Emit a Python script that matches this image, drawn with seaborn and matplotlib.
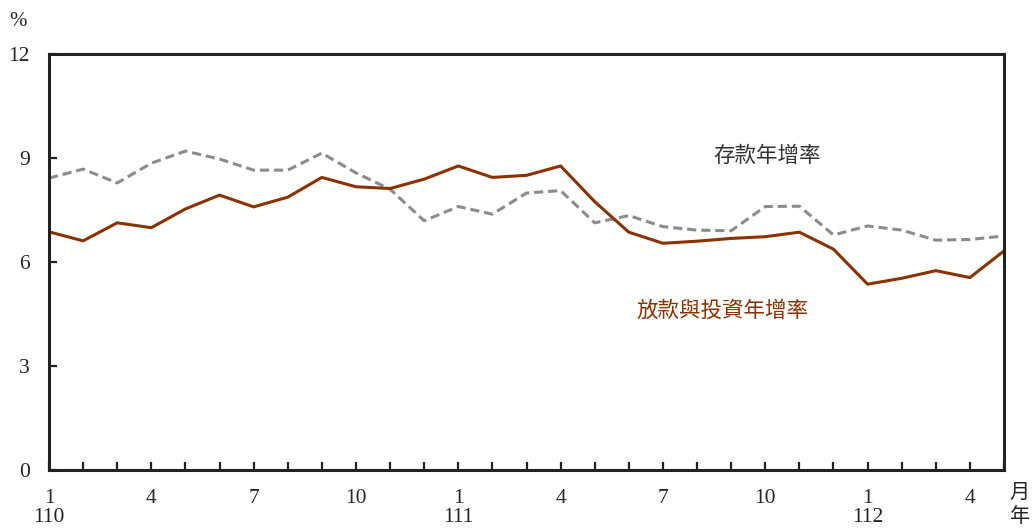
import numpy as np
import pandas as pd
import matplotlib
matplotlib.use("Agg")
import matplotlib.pyplot as plt
import matplotlib.transforms as mtransforms
import seaborn as sns

# Data: Jan 110 .. May 112 (ROC years)
months = [1,2,3,4,5,6,7,8,9,10,11,12,
          1,2,3,4,5,6,7,8,9,10,11,12,
          1,2,3,4,5]
deposits = [8.42, 8.68, 8.28, 8.85, 9.20, 8.97, 8.65, 8.65, 9.14, 8.57, 8.10, 7.19,
            7.60, 7.38, 7.99, 8.06, 7.13, 7.34, 7.02, 6.92, 6.90, 7.60, 7.61, 6.78,
            7.04, 6.92, 6.63, 6.65, 6.75]
loans = [6.87, 6.61, 7.13, 6.99, 7.53, 7.93, 7.59, 7.87, 8.44, 8.17, 8.12, 8.39,
         8.77, 8.44, 8.50, 8.77, 7.74, 6.86, 6.54, 6.60, 6.68, 6.73, 6.86, 6.37,
         5.36, 5.53, 5.75, 5.55, 6.32]
month_tick_labels = ["1", "4", "7", "10", "1", "4", "7", "10", "1", "4"]
year_labels = ["110", "111", "112"]
y_ticks = [0, 3, 6, 9, 12]
label_deposits = "存款年增率"
label_loans = "放款與投資年增率"

idx = np.arange(len(months))
df = pd.DataFrame({"idx": np.concatenate([idx, idx]),
                   "value": deposits + loans,
                   "series": [label_deposits] * len(idx) + [label_loans] * len(idx)})

sns.set_theme(style="white")
plt.rcParams["font.family"] = ["Liberation Serif", "Noto Sans CJK TC"]
plt.rcParams["axes.unicode_minus"] = False

fig = plt.figure(figsize=(10.34, 5.28), dpi=100)
ax = fig.add_axes([49/1034, 1 - 470/528, (1004 - 49)/1034, (470 - 54)/528])

brown = "#8B3200"
gray = "#8C8C8C"
sns.lineplot(data=df, x="idx", y="value", hue="series", style="series",
             palette={label_deposits: gray, label_loans: brown},
             dashes={label_deposits: (3.0, 1.6), label_loans: ""},
             linewidth=2.2, legend=False, ax=ax, sort=False)

ax.set_xlim(0, len(months) - 1)
ax.set_ylim(0, 12)
ax.set_xlabel("")
ax.set_ylabel("")

for s in ax.spines.values():
    s.set_visible(True)
    s.set_color("#222222")
    s.set_linewidth(2.2)

ax.set_xticks(idx, minor=True)
major_pos = [i for i, m in enumerate(months) if m in (1, 4, 7, 10)]
ax.set_xticks(major_pos)
ax.set_xticklabels(month_tick_labels, fontsize=15.5)
ax.tick_params(axis="x", which="both", direction="in", length=6, width=1.6,
               color="#222222", pad=14, bottom=True)
ax.set_yticks(y_ticks)
ax.set_yticklabels([str(v) for v in y_ticks], fontsize=15.5)
ax.tick_params(axis="y", direction="in", length=6, width=1.6, color="#222222",
               pad=14, left=True)

# Year labels under January ticks
trans = mtransforms.blended_transform_factory(ax.transData, fig.transFigure)
year_pos = [i for i, m in enumerate(months) if m == 1]
for p, yl in zip(year_pos, year_labels):
    ax.text(p, 1 - 518/528, yl, transform=trans, ha="center", va="center",
            fontsize=15.5, color="#222222")

# Units
fig.text(18/1034, 1 - 21/528, "%", ha="center", va="center", fontsize=15, color="#222222")
fig.text(1020/1034, 1 - 492/528, "月", ha="center", va="center", fontsize=14.5,
         color="#222222", family=["Noto Sans CJK TC"])
fig.text(1020/1034, 1 - 516/528, "年", ha="center", va="center", fontsize=14.5,
         color="#222222", family=["Noto Sans CJK TC"])

# Series labels
ax.text(21.05, 9.05, label_deposits, ha="center", va="center", fontsize=15.5,
        color="#333333", family=["Noto Sans CJK TC"], fontweight="light")
ax.text(19.75, 4.6, label_loans, ha="center", va="center", fontsize=15.5,
        color=brown, family=["Noto Sans CJK TC"], fontweight="light")

fig.savefig("out.png", dpi=100)
